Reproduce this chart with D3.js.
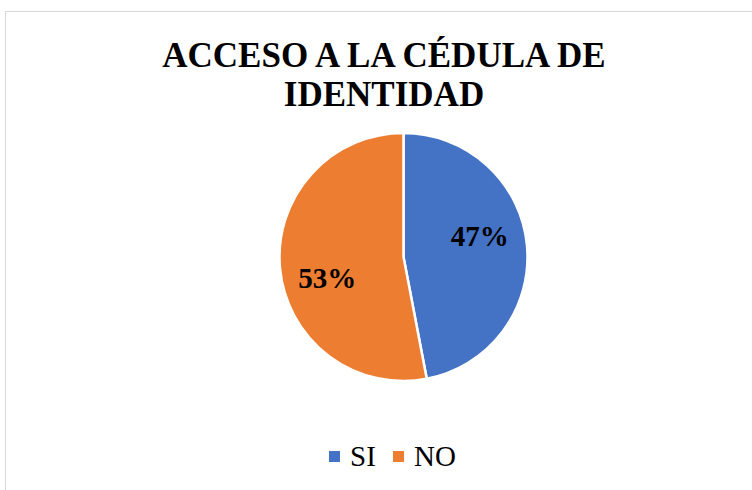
<!DOCTYPE html>
<html lang="es">
<head>
    <meta charset="UTF-8">
    <title>Acceso a la cédula de identidad</title>
    <script src="https://d3js.org/d3.v7.min.js"></script>
    <style>
        body { margin: 0; background: #fff; }
        svg text { font-family: "Liberation Serif", "Times New Roman", serif; }
    </style>
</head>
<body>
    <svg width="752" height="490" id="chart"></svg>
    <script>
        const categories = ["SI", "NO"];
        const values = [47, 53];
        const colors = ["#4472C4", "#ED7D31"];
        const titleLines = ["ACCESO A LA CÉDULA DE", "IDENTIDAD"];

        const svg = d3.select('#chart');

        // chart frame (runs off the right / bottom edge)
        svg.append('rect')
            .attr('x', 5.5).attr('y', 11.5)
            .attr('width', 760).attr('height', 490)
            .attr('fill', '#fff')
            .attr('stroke', '#d9d9d9')
            .attr('stroke-width', 1);

        svg.append('g')
            .selectAll('text')
            .data(titleLines)
            .enter().append('text')
            .attr('x', 384)
            .attr('y', (d, i) => 67 + i * 39)
            .attr('text-anchor', 'middle')
            .attr('font-size', 35)
            .attr('font-weight', 'bold')
            .text(d => d);

        const cx = 403.5, cy = 257, r = 124;
        const data = categories.map((c, i) => ({ name: c, value: values[i] }));
        const color = d3.scaleOrdinal().domain(categories).range(colors);

        const pie = d3.pie().sort(null).value(d => d.value);
        const arc = d3.arc().innerRadius(0).outerRadius(r);

        const g = svg.append('g').attr('transform', `translate(${cx},${cy})`);
        const arcs = pie(data);

        g.selectAll('path')
            .data(arcs)
            .enter().append('path')
            .attr('d', arc)
            .attr('fill', d => color(d.data.name))
            .attr('stroke', '#fff')
            .attr('stroke-width', 2.5);

        // data labels: inside each slice, turned a little counter-clockwise like the original
        const labelR = 79, labelTurn = -10 * Math.PI / 180;
        const total = d3.sum(values);
        g.selectAll('text')
            .data(arcs)
            .enter().append('text')
            .attr('transform', d => {
                const a = (d.startAngle + d.endAngle) / 2 + labelTurn;
                return `translate(${labelR * Math.sin(a)},${-labelR * Math.cos(a)})`;
            })
            .attr('text-anchor', 'middle')
            .attr('dy', '0.33em')
            .attr('font-size', 29)
            .attr('font-weight', 'bold')
            .text(d => Math.round(d.data.value / total * 100) + '%');

        // legend
        const legend = svg.append('g').attr('transform', 'translate(329,456.5)');
        const items = legend.selectAll('g')
            .data(categories)
            .enter().append('g')
            .attr('transform', (d, i) => `translate(${i * 64},0)`);
        items.append('rect')
            .attr('x', 0).attr('y', -5.5)
            .attr('width', 11).attr('height', 11)
            .attr('fill', d => color(d));
        items.append('text')
            .attr('x', 21)
            .attr('dy', '0.33em')
            .attr('font-size', 29)
            .text(d => d);
    </script>
</body>
</html>
